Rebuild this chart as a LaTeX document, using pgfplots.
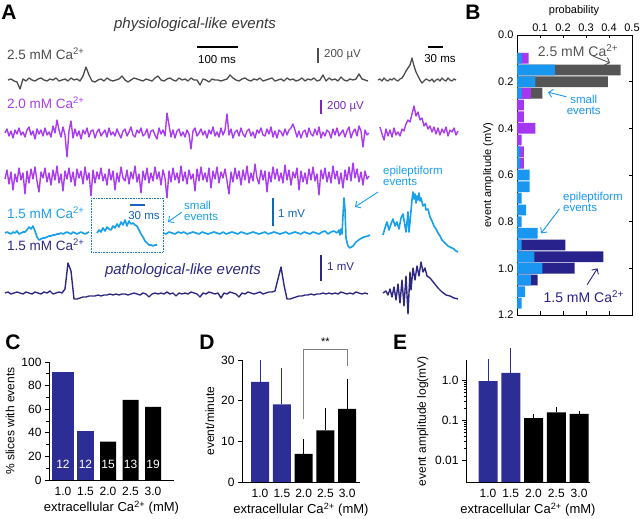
\documentclass[border=0pt]{standalone}
\usepackage{fontspec}
\setmainfont{Liberation Sans}
\usepackage{pgfplots}
\pgfplotsset{compat=1.18}
\usetikzlibrary{arrows.meta}

\definecolor{trgray}{RGB}{77,77,77}
\definecolor{trpurple}{RGB}{170,60,240}
\definecolor{dkpurple}{RGB}{120,40,190}
\definecolor{trcyan}{RGB}{25,160,235}
\definecolor{trnavy}{RGB}{45,40,130}
\definecolor{barnavy}{RGB}{45,45,150}
\definecolor{scaleblue}{RGB}{20,100,190}
\definecolor{hcyan}{RGB}{25,150,240}
\definecolor{hgray}{RGB}{85,85,85}
\definecolor{hpurple}{RGB}{165,55,240}
\definecolor{hnavy}{RGB}{40,35,140}

\newcommand{\fs}[1]{\fontsize{#1}{#1}\selectfont}

\pgfplotsset{
  panel/.style={scale only axis, clip=false,
    axis x line=bottom, axis y line=left,
    axis line style={-, line width=0.8pt},
    tick align=outside, xtick style={draw=none},
    ytick style={line width=0.8pt, black},
    major tick length=4pt, minor tick length=2.5pt,
    tick label style={font=\fs{12}},
    ylabel style={font=\fs{12}},
    xtick={0,...,4}, xticklabels={1.0,1.5,2.0,2.5,3.0},
    ybar, bar shift=0pt,
    /pgf/number format/assume math mode=true,
    xlabel={extracellular Ca\textsuperscript{2+} (mM)},
    xlabel style={font=\fs{13}, yshift=2pt}},
}

\begin{document}
\begin{tikzpicture}
\path[use as bounding box] (0,0) rectangle (640pt,519pt);

% ---------- panel A: traces, pixel coordinates, y downwards
\begin{axis}[at={(0pt,0pt)}, anchor=south west, scale only axis,
  width=640pt, height=519pt, xmin=0, xmax=640, ymin=0, ymax=519,
  y dir=reverse, hide axis, clip=false]

% 2.5 mM
\addplot[trgray, line width=1.3pt, line join=round] table[header=false, row sep=\\, x expr=8+3*\coordindex, y expr=80+\thisrowno{0}] {
0\\-1\\1\\2\\9\\-1\\1\\-2\\0\\1\\
-1\\-2\\0\\1\\-1\\0\\-2\\1\\0\\-1\\
1\\-2\\0\\-1\\1\\-4\\-13\\-5\\1\\2\\
0\\-1\\1\\-2\\0\\1\\0\\-1\\-4\\0\\
2\\0\\-2\\-1\\0\\1\\-1\\0\\1\\-2\\
-4\\0\\1\\-1\\-2\\0\\1\\-2\\0\\-1\\
1\\-2\\0\\0\\5\\-1\\0\\2\\-1\\0\\
0\\1\\0\\-1\\-5\\-2\\0\\1\\-1\\-2\\
0\\1\\-1\\0\\-2\\1\\0\\-1\\-2\\1\\
0\\-1\\1\\-2\\0\\-1\\1\\0\\-2\\1\\
-1\\0\\-2\\1\\0\\-5\\1\\-2\\0\\-1\\
1\\-3\\0\\1\\-1\\0\\-1\\-6\\-1\\0\\
1\\
};
\addplot[trgray, line width=1.3pt, line join=round] table[header=false, row sep=\\, x expr=378+2*\coordindex, y expr=80+\thisrowno{0}] {
0\\-1\\1\\-2\\0\\1\\-1\\0\\-2\\0\\
1\\-1\\-2\\-5\\-9\\-12\\-15\\-22\\-14\\-8\\
-4\\0\\3\\1\\-1\\0\\1\\-1\\2\\0\\
-1\\1\\-2\\0\\1\\-2\\0\\1\\-1\\0\\
};

% 2.0 mM, first trace
\addplot[trpurple, line width=1.4pt, line join=round] table[header=false, row sep=\\, x expr=5+2*\coordindex, y expr=133+\thisrowno{0}] {
0\\-4\\3\\-2\\5\\-3\\1\\-5\\2\\-1\\
4\\-3\\-6\\2\\-2\\6\\-4\\1\\-3\\3\\
-5\\2\\-1\\4\\-7\\0\\-13\\-3\\4\\-6\\
2\\24\\-2\\-12\\5\\-4\\3\\-2\\6\\-3\\
1\\-5\\4\\-2\\-3\\5\\-1\\-4\\3\\0\\
-3\\4\\-5\\2\\-1\\3\\-4\\1\\5\\-2\\
-4\\3\\-1\\-6\\2\\4\\-3\\0\\-5\\3\\
1\\-4\\5\\-2\\-3\\2\\6\\-5\\1\\-3\\
3\\-20\\-8\\4\\-3\\5\\-2\\-4\\3\\-1\\
4\\-3\\1\\16\\-2\\-5\\3\\0\\-4\\2\\
-2\\5\\-3\\1\\-6\\3\\-1\\4\\-5\\2\\
-3\\-19\\2\\-4\\5\\-1\\-3\\3\\-5\\1\\
4\\-2\\-4\\3\\-1\\5\\-3\\0\\-5\\2\\
3\\-4\\1\\-6\\4\\-2\\5\\-3\\-1\\3\\
-4\\2\\-3\\-5\\-9\\-3\\4\\-2\\5\\-1\\
-3\\4\\-5\\1\\3\\-4\\2\\-6\\5\\-1\\
3\\-3\\-1\\5\\-4\\2\\-5\\3\\0\\-3\\
4\\-2\\-6\\5\\-1\\-4\\3\\-7\\-2\\14\\
-3\\2\\0\\
};
\addplot[trpurple, line width=1.4pt, line join=round] table[header=false, row sep=\\, x expr=380+2*\coordindex, y expr=132+\thisrowno{0}] {
-5\\2\\8\\-3\\4\\-2\\5\\-4\\3\\0\\
4\\-3\\-1\\-8\\-12\\-10\\-18\\-26\\-16\\-20\\
-12\\-14\\-6\\-9\\-3\\-6\\0\\-5\\2\\-4\\
3\\-3\\1\\-5\\4\\-2\\0\\-4\\3\\-1\\
};

% 2.0 mM, second trace
\addplot[trpurple, line width=1.4pt, line join=round] table[header=false, row sep=\\, x expr=5+2*\coordindex, y expr=176+\thisrowno{0}] {
3\\-6\\8\\-4\\14\\-2\\6\\-8\\4\\-3\\
18\\-5\\7\\-7\\3\\-9\\5\\16\\-4\\2\\
-8\\6\\-3\\9\\-6\\4\\-10\\7\\-2\\15\\
-5\\3\\-8\\6\\-4\\10\\-7\\2\\-5\\8\\
-9\\4\\-3\\20\\-6\\7\\-4\\3\\-8\\5\\
-2\\9\\-7\\4\\-5\\14\\-3\\6\\-9\\2\\
5\\-6\\8\\-4\\3\\-10\\6\\-2\\17\\-5\\
4\\-8\\7\\-3\\5\\-9\\3\\-4\\9\\-6\\
2\\22\\-5\\6\\-8\\4\\-3\\7\\-10\\5\\
-4\\8\\-6\\3\\-2\\15\\-7\\5\\-9\\4\\
-3\\6\\-8\\12\\-5\\3\\-9\\7\\-4\\2\\
-7\\5\\18\\-4\\6\\-8\\3\\-5\\9\\-6\\
4\\-10\\7\\-3\\5\\-12\\2\\8\\-6\\4\\
-5\\16\\-4\\6\\-9\\3\\-7\\5\\-3\\7\\
-11\\4\\-6\\9\\-4\\2\\-8\\14\\-5\\6\\
-3\\8\\-7\\4\\-9\\5\\-2\\19\\-6\\3\\
-8\\6\\-4\\7\\-10\\3\\-5\\8\\-3\\12\\
-6\\4\\-9\\5\\-13\\2\\-7\\6\\-4\\9\\
-5\\3\\0\\
};

% 1.5 mM, small events (cyan)
\addplot[trcyan, line width=1.6pt, line join=round] table[header=false, row sep=\\, x expr=5+2*\coordindex, y expr=233+\thisrowno{0}] {
0\\-1\\0\\1\\-1\\0\\-2\\1\\0\\-1\\
-1\\-3\\-6\\-4\\-7\\-2\\4\\7\\6\\5\\
5\\4\\3\\3\\2\\2\\1\\1\\0\\1\\
0\\-1\\0\\1\\-1\\0\\1\\0\\-1\\0\\
1\\0\\-1\\
};
\addplot[trcyan, line width=1.6pt, line join=round] table[header=false, row sep=\\, x expr=97+2*\coordindex, y expr=233+\thisrowno{0}] {
0\\-3\\-1\\-5\\-2\\-6\\-4\\-3\\-7\\-5\\
-9\\-6\\-11\\-8\\-13\\-7\\-12\\-9\\-10\\-8\\
-7\\-3\\1\\4\\8\\10\\12\\12\\13\\12\\
12\\
};
\addplot[trcyan, line width=1.6pt, line join=round] table[header=false, row sep=\\, x expr=163+3*\coordindex, y expr=233+\thisrowno{0}] {
0\\1\\-1\\0\\1\\-1\\0\\-1\\1\\0\\
-1\\0\\1\\-1\\0\\1\\0\\-1\\0\\1\\
-1\\1\\0\\-1\\0\\1\\-1\\0\\1\\0\\
-1\\0\\1\\0\\-1\\1\\0\\-1\\0\\1\\
0\\-1\\1\\0\\-1\\0\\1\\-1\\0\\1\\
-1\\0\\1\\-1\\-2\\1\\-1\\-2\\0\\
};
\addplot[trcyan, line width=1.6pt, line join=round] coordinates {
(337,233) (339,230) (340,235) (341,229) (342,234) (343,215) (344,198)
(345,210) (346,238) (348,246) (350,248) (353,246) (356,242) (360,239)
(364,237) (368,236) (370,235)};
\addplot[trcyan, line width=1.6pt, line join=round] coordinates {
(383,235) (385,228) (387,222) (389,230) (391,224) (393,219) (395,226)
(397,222) (399,229) (401,218) (403,214) (405,226) (406,232) (408,212)
(409,232) (410,222) (412,200) (413,192) (414,199) (415,194) (416,203)
(417,196) (418,200) (419,193) (420,201) (421,198) (423,206) (425,204)
(426,210) (428,209) (430,217) (432,221) (434,226) (436,229) (438,233)
(440,236) (442,240) (444,242) (446,244) (448,246) (450,247) (452,248)
(454,249) (456,251) (458,252)};

% 1.5 mM, pathological-like events (navy)
\addplot[trnavy, line width=1.4pt, line join=round] table[header=false, row sep=\\, x expr=5+3*\coordindex, y expr=293+\thisrowno{0}] {
0\\-1\\1\\0\\-1\\0\\1\\-1\\0\\1\\
-1\\0\\1\\-1\\0\\-2\\1\\0\\-1\\0\\
-4\\-30\\-22\\6\\6\\5\\4\\4\\3\\3\\
3\\2\\3\\2\\2\\1\\2\\1\\2\\1\\
1\\2\\1\\0\\1\\2\\0\\1\\4\\1\\
0\\1\\0\\1\\-1\\1\\0\\3\\0\\1\\
0\\1\\-1\\0\\1\\4\\0\\1\\-1\\0\\
1\\0\\5\\0\\1\\-1\\0\\1\\4\\0\\
1\\-1\\0\\1\\0\\-1\\1\\0\\-1\\-1\\
-2\\-14\\-26\\-8\\6\\6\\5\\4\\3\\3\\
2\\2\\1\\2\\1\\1\\0\\1\\0\\1\\
0\\1\\-1\\0\\1\\0\\1\\-1\\0\\1\\
0\\1\\
};
\addplot[trnavy, line width=1.4pt, line join=round] coordinates {
(383,293) (386,291) (388,295) (390,289) (392,297) (394,287) (396,300)
(398,284) (400,303) (402,280) (404,306) (406,276) (408,314) (410,272)
(411,290) (413,268) (415,280) (417,266) (419,276) (421,262) (423,272)
(425,268) (427,276) (430,278) (434,283) (438,288) (442,292) (446,295)
(450,296) (454,298) (458,299)};

% texts of panel A
\node[font=\fs{21}\bfseries] at (axis cs:9,12) {A};
\node[font=\fs{15}\itshape, text={rgb,255:red,55;green,55;blue,55}] at (axis cs:195,25) {physiological-like events};
\node[font=\fs{15}\itshape, text=trnavy] at (axis cs:183,271) {pathological-like events};
\node[anchor=west, inner sep=0pt, font=\fs{13.5}, text=trgray] at (axis cs:7,54) {2.5 mM Ca\textsuperscript{2+}};
\node[anchor=west, inner sep=0pt, font=\fs{13.5}, text=trpurple] at (axis cs:7,103) {2.0 mM Ca\textsuperscript{2+}};
\node[anchor=west, inner sep=0pt, font=\fs{13.5}, text=trcyan] at (axis cs:7,213) {1.5 mM Ca\textsuperscript{2+}};
\node[anchor=west, inner sep=0pt, font=\fs{13.5}, text=trnavy] at (axis cs:7,245) {1.5 mM Ca\textsuperscript{2+}};

% scale bars
\draw[black, line width=1.3pt] (axis cs:197,47) -- (axis cs:238,47);
\node[font=\fs{11.5}] at (axis cs:217,60) {100 ms};
\draw[black, line width=1.3pt] (axis cs:428,47) -- (axis cs:443,47);
\node[font=\fs{11.5}] at (axis cs:440,59) {30 ms};
\draw[trgray, line width=1.3pt] (axis cs:318,48) -- (axis cs:318,63);
\node[anchor=west, inner sep=0pt, font=\fs{11.5}, text=trgray] at (axis cs:324,55) {200 µV};
\draw[dkpurple, line width=1.5pt] (axis cs:321,100) -- (axis cs:321,114);
\node[anchor=west, inner sep=0pt, font=\fs{11.5}, text=dkpurple] at (axis cs:327,107) {200 µV};
\draw[scaleblue, line width=1.3pt] (axis cs:273,198) -- (axis cs:273,226);
\node[anchor=west, inner sep=0pt, font=\fs{11.5}, text=scaleblue] at (axis cs:278,214) {1 mV};
\draw[trnavy, line width=1.3pt] (axis cs:321,255) -- (axis cs:321,281);
\node[anchor=west, inner sep=0pt, font=\fs{11.5}, text=trnavy] at (axis cs:327,267) {1 mV};
\draw[scaleblue, line width=1.3pt] (axis cs:130,205) -- (axis cs:145,205);
\node[font=\fs{11.5}, text=scaleblue] at (axis cs:144,216) {30 ms};
\draw[trcyan!80!black, densely dotted, line width=0.6pt] (axis cs:91,198) rectangle (axis cs:163,252);

% annotations
\node[anchor=west, inner sep=0pt, align=left, font=\fs{11.5}, text=trcyan] at (axis cs:184,211) {small\\events};
\draw[trcyan, line width=0.9pt, -{Straight Barb[length=4pt]}] (axis cs:182,212) -- (axis cs:168,222);
\node[anchor=west, inner sep=0pt, align=left, font=\fs{11.5}, text=trcyan] at (axis cs:383,176) {epileptiform\\events};
\draw[trcyan, line width=0.9pt, -{Straight Barb[length=4pt]}] (axis cs:378,192) -- (axis cs:355,207);

% panel letters and texts around B
\node[font=\fs{21}\bfseries] at (axis cs:473,12) {B};
\node[font=\fs{11}] at (axis cs:574,11) {probability};
\node[font=\fs{21}\bfseries] at (axis cs:13,342) {C};
\node[font=\fs{21}\bfseries] at (axis cs:207,342) {D};
\node[font=\fs{21}\bfseries] at (axis cs:400,342) {E};
\end{axis}

% ---------- panel B: amplitude histogram
\begin{axis}[at={(517pt,484pt)}, anchor=north west, scale only axis,
  width=115pt, height=280pt, clip=false,
  xmin=0, xmax=0.5, ymin=0, ymax=1.2, y dir=reverse,
  xbar, bar shift=0pt, bar width=0.046,
  xtick={0.1,0.2,0.3,0.4,0.5}, xticklabels={0.1,0.2,0.3,0.4,0.5},
  xticklabel pos=right,
  ytick={0,0.2,0.4,0.6,0.8,1.0,1.2}, yticklabels={0.0,0.2,0.4,0.6,0.8,1.0,1.2},
  tick align=inside, major tick length=3.5pt,
  tick style={line width=0.6pt, black},
  axis line style={line width=0.8pt},
  tick label style={font=\fs{11}},
  ylabel={event amplitude (mV)}, ylabel style={font=\fs{11}, yshift=-2pt},
  /pgf/number format/assume math mode=true]
\addplot[fill=hgray, draw=none] coordinates {(0.45,0.15) (0.395,0.2) (0.11,0.25)};
\addplot[fill=hnavy, draw=none] coordinates {(0.21,0.9) (0.375,0.95) (0.25,1.0) (0.09,1.05)};
\addplot[fill=hpurple, draw=none] coordinates {(0.05,0.1) (0.06,0.25) (0.03,0.3) (0.03,0.35) (0.08,0.4) (0.02,0.45) (0.03,0.5) (0.03,0.55)};
\addplot[fill=hcyan, draw=none] coordinates {(0.02,0.1) (0.165,0.15) (0.08,0.2) (0.02,0.25) (0.015,0.5) (0.015,0.55) (0.055,0.6) (0.055,0.65) (0.02,0.7) (0.04,0.75) (0.02,0.8) (0.09,0.85) (0.02,0.9) (0.075,0.95) (0.11,1.0) (0.06,1.05) (0.035,1.1) (0.02,1.15)};
\node[font=\fs{14}, text=hgray] at (axis cs:0.265,0.068) {2.5 mM Ca\textsuperscript{2+}};
\draw[hgray, line width=0.9pt, -{Straight Barb[length=4pt]}] (axis cs:0.33,0.09) -- (axis cs:0.405,0.12);
\node[align=center, font=\fs{11.5}, text=hcyan, inner sep=0pt] at (axis cs:0.29,0.3) {small\\events};
\draw[hcyan, line width=0.9pt, -{Straight Barb[length=4pt]}] (axis cs:0.215,0.265) -- (axis cs:0.135,0.245);
\node[anchor=west, align=left, font=\fs{11.5}, text=hcyan, inner sep=0pt] at (axis cs:0.2,0.715) {epileptiform\\events};
\draw[hcyan, line width=0.9pt, -{Straight Barb[length=4pt]}] (axis cs:0.185,0.745) -- (axis cs:0.105,0.85);
\node[font=\fs{14}, text=hnavy] at (axis cs:0.29,1.12) {1.5 mM Ca\textsuperscript{2+}};
\draw[hnavy, line width=0.9pt, -{Straight Barb[length=4pt]}] (axis cs:0.305,1.07) -- (axis cs:0.35,1.0);
\end{axis}

% ---------- panel C
\begin{axis}[panel, at={(49pt,39pt)}, anchor=south west,
  width=125pt, height=118pt, xmin=-0.62, xmax=4.93, ymin=0, ymax=100,
  ytick={0,20,...,100}, minor y tick num=1,
  ylabel={\% slices with events}]
\addplot[fill=barnavy, draw=none, bar width=22pt] coordinates {(0,91.5)};
\addplot[fill=barnavy, draw=none, bar width=17pt] coordinates {(1,41.5)};
\addplot[fill=black, draw=none, bar width=16pt] coordinates {(2,32.5) (3,68) (4,62)};
\node[text=white, font=\fs{12}] at (axis cs:0,13) {12};
\node[text=white, font=\fs{12}] at (axis cs:1,13) {12};
\node[text=white, font=\fs{12}] at (axis cs:2,13) {15};
\node[text=white, font=\fs{12}] at (axis cs:3,13) {13};
\node[text=white, font=\fs{12}] at (axis cs:4,13) {19};
\end{axis}

% ---------- panel D
\begin{axis}[panel, at={(242pt,37pt)}, anchor=south west,
  width=118pt, height=122pt, xmin=-0.83, xmax=4.59, ymin=0, ymax=30,
  ytick={0,10,20,30},
  ylabel={event/minute}]
\addplot[fill=barnavy, draw=none, bar width=18pt,
  error bars/.cd, y dir=plus, y explicit, error mark=none,
  error bar style={barnavy, line width=0.9pt}]
  table[row sep=\\, x=x, y=y, y error=e] {x y e\\ 0 24.6 5.4\\ 1 19.1 8.9\\};
\addplot[fill=black, draw=none, bar width=18pt,
  error bars/.cd, y dir=plus, y explicit, error mark=none,
  error bar style={black, line width=0.9pt}]
  table[row sep=\\, x=x, y=y, y error=e] {x y e\\ 2 6.9 3.6\\ 3 12.7 5.6\\ 4 18.0 7.4\\};
\draw[gray, line width=0.6pt] (axis cs:2,15.6) -- (axis cs:2,32.7) -- (axis cs:4,32.7) -- (axis cs:4,28.5);
\node[font=\fs{11}] at (axis cs:3,34.4) {**};
\end{axis}

% ---------- panel E
\begin{axis}[panel, at={(466pt,37pt)}, anchor=south west,
  width=124pt, height=121.6pt, xmin=-0.97, xmax=4.48,
  ymode=log, ymin=0.0029, ymax=3.16, log origin=infty,
  ytick={0.01,0.1,1}, yticklabels={0.01,0.1,1.0},
  ylabel={event amplitude log(mV)}]
\addplot[fill=barnavy, draw=none, bar width=19pt,
  error bars/.cd, y dir=plus, y explicit, error mark=none,
  error bar style={barnavy, line width=0.9pt}]
  table[row sep=\\, x=x, y=y, y error=e] {x y e\\ 0 0.96 2.44\\ 1 1.55 5.05\\};
\addplot[fill=black, draw=none, bar width=19pt,
  error bars/.cd, y dir=plus, y explicit, error mark=none,
  error bar style={black, line width=0.9pt}]
  table[row sep=\\, x=x, y=y, y error=e] {x y e\\ 2 0.115 0.026\\ 3 0.158 0.057\\ 4 0.145 0.023\\};
\end{axis}
\end{tikzpicture}
\end{document}
